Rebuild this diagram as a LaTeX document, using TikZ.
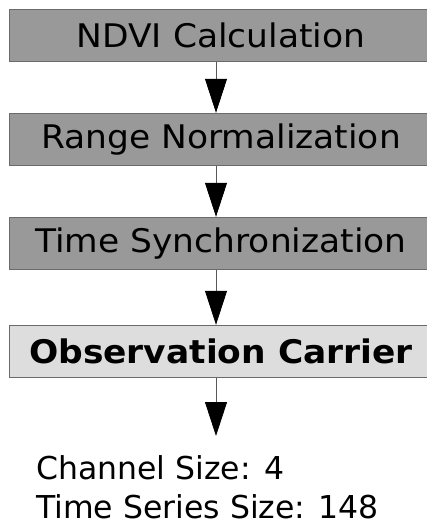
\documentclass[tikz,border=0pt]{standalone}
\usepackage{xcolor}
\usepackage{fontspec}
\setmainfont{DejaVu Sans}
\newfontfamily\stepfont[FakeStretch=1.06]{DejaVu Sans}
\usetikzlibrary{arrows.meta}

\definecolor{stepgray}{HTML}{999999}
\definecolor{carriergray}{HTML}{DDDDDD}
\definecolor{stepborder}{HTML}{3F72B8}

\begin{document}
\begin{tikzpicture}[x=1pt,y=-1pt,
            stepbox/.style={draw=stepborder,line width=1.4pt,fill=stepgray,
                minimum width=423pt,minimum height=52pt,inner sep=0pt,
                font=\stepfont\fontsize{32.5}{38.5}\selectfont},
            flow/.style={draw=black!65,line width=0.8pt,
                -{Triangle[length=34pt,width=22pt,black]}}]
            \useasboundingbox (0,0) rectangle (427,526);

            \node[stepbox] (ndvi) at (221,35.5) {NDVI Calculation};
            \node[stepbox] (range) at (221,139.5) {Range Normalization};
            \node[stepbox] (sync) at (221,243.5) {Time Synchronization};
            \node[stepbox,fill=carriergray,font=\stepfont\fontsize{32.5}{38.5}\selectfont\bfseries]
                (carrier) at (221,351.5) {Observation Carrier};
            \coordinate (out) at (216,436);

            \draw[flow] ([xshift=-5pt]ndvi.south) -- ([xshift=-5pt]range.north);
            \draw[flow] ([xshift=-5pt]range.south) -- ([xshift=-5pt]sync.north);
            \draw[flow] ([xshift=-5pt]sync.south) -- ([xshift=-5pt]carrier.north);
            \draw[flow] ([xshift=-5pt]carrier.south) -- (out);

            \node[anchor=base west,align=left,inner sep=0pt,
                font=\fontsize{31.5}{39}\selectfont] (sizes) at (36,518)
                {Channel Size: 4\\Time Series Size: 148};
        \end{tikzpicture}
\end{document}
